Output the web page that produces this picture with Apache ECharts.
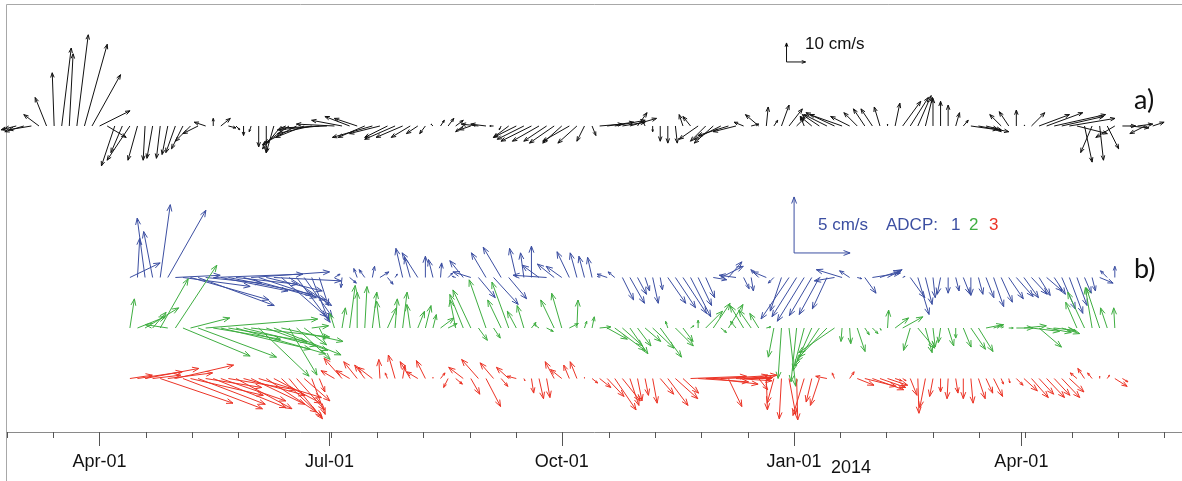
<!DOCTYPE html>
<html>
<head>
<meta charset="utf-8">
<script src="https://cdn.jsdelivr.net/npm/echarts@6/dist/echarts.min.js"></script>
<style>
  html, body { margin: 0; padding: 0; background: #fff; }
  #chart { width: 1182px; height: 481px; }
</style>
</head>
<body>
<div id="chart"></div>
<script>
// time in days since 2013-01-01, one stick every 3 days
var step = 3;
var dayA0 = 54;   // start of the upper record (a)
var dayB0 = 102;  // start of the ADCP records (b)

// a) velocity sticks, cm/s (east u, north v)
var uA = [-3,-8,-10,-12,-8,-6,-1,5,2,6,
  12,15,16,10,-7,-6,-12,-5,-1,-3,
  -2,-3,-5,-6,-8,-8,-6,0,5,4,
  2,0,-1,0,0,-4,-10,-14,-17,-15,
  -18,-22,-24,-20,-16,-13,-12,-14,-21,-16,
  -12,-16,-14,-10,-6,-3,-1,2,3,4,
  -4,-6,-9,-8,-2,-1,-8,-12,-14,-16,
  -14,-12,-13,-10,-14,-10,-4,2,12,14,
  16,12,14,5,-1,0,0,0,1,-2,
  -4,-10,-8,-10,-14,-16,-12,-5,4,-7,
  1,2,4,7,4,-2,-6,-9,-12,-15,
  -17,-10,-7,-6,-6,-3,0,2.5,9.5,9.5,
  7,3.7,0,0,0,2,2.6,14,16,8,
  4,-6,-5,0,0.5,7,16,19,27,22,
  24,16,4,-6,2,6,-10,7,10,8,
  -8,6];
var vA = [-2,-2,-3,-2,6,15,28,41,38,48,
  43,27,8,-6,-21,-14,-18,-18,-18,-17,
  -17,-15,-14,-12,-8,-4,2,4,4,-1,
  -2,-5,-3,-11,-14,-14,-12,-10,-9,-6,
  -4,-2,-1,1,3,5,4,-6,-6,-4,
  -6,-7,-6,-6,-4,-4,1,3,4,3,
  -3,-2,1,1,0,-2,-6,-6,-7,-8,
  -8,-8,-9,-9,-8,-9,-8,-5,1,2,
  3,2,4,7,2,-3,-8,-9,-9,6,
  5,-7,-8,-9,-7,-5,-3,2,1,6,
  10,3,11,9,4,5,5,6,6,7,
  6,5,7,9,9,10,1,12,13,15,
  16,15,14.5,13,11,7,3,-2,-3,-2,
  -3,6,7.5,8.4,0.5,7,6,7,6,5,
  4,-4,-19,-14,-18,-12,-6,0,-1,1,
  -4,2];

// b) ADCP 1
var uB1 = [2.7,0.2,-0.7,-0.8,0.9,3.4,4,6,7,6.8,
  5,8,6,7.5,5.5,6.5,7,6,5,6,
  4,3.8,3,2.5,1.5,0.8,null,0.5,-0.1,0.6,
  -0.3,-0.5,0.2,0.8,0.5,0.2,-0.6,-0.5,-1.4,0,
  -0.4,0.1,0.4,-0.3,-1.2,-1.6,1.5,-1.3,2.2,-1.6,
  1.6,-0.6,-0.3,0,-1.5,-3,-1.5,-1.4,-1.1,-0.6,
  -0.5,-0.4,-0.2,-0.9,-0.6,1,1.3,0.8,0.4,0.5,
  0.2,1.6,1.8,2.1,1.8,1.2,0.8,1.2,2,1.2,
  -1.5,0.5,0.2,-0.7,-1.2,-0.5,-1,-2.5,-2.2,-2.4,
  -2,-1.8,-1.3,-1.8,-2.3,-0.9,0.4,1,2.5,1.8,
  1.3,0,0.2,1.3,1,0.6,0.2,-0.3,0,0.3,
  0.6,0,0.4,0.7,0.9,1,1.3,1.5,1.3,1.4,
  1,1.4,1,1.2,1.2,0.9,0.6,0.3,1.2,-0.6,
  0,null,null];
var vB1 = [1.3,3.5,5.3,4.1,6.5,6,0.2,-0.8,-2,-2.5,
  -0.5,0.3,-1.2,-1.5,-0.6,-1.8,0.5,-2,-1.2,-0.3,
  -3.5,-2.5,-4,-3.5,-3.8,-2.5,null,0.3,-0.9,-0.5,
  0.8,0.7,1,0.5,-0.6,0.3,2.6,1.8,2.2,1.9,
  1.6,1.3,0.4,0.1,1.5,0.5,-1.8,2.2,-2.4,2.7,
  -1.9,2.6,2.2,2.8,1.1,0.2,1.2,1,2.3,2.2,
  1.9,1.8,0.1,0.3,0.5,-2,-2.3,-1.5,-1.2,-2.3,
  -1.1,-2.3,-2.7,-3.2,-3.5,-2.5,-1.8,-0.2,1,1.4,
  0.2,-1,-1.2,0.7,0.5,-0.5,-3,-3.7,-3.5,-3.9,
  -3.4,-3.3,-2.8,-0.3,0.7,0.6,-0.1,-1.4,0.4,0.6,
  0.7,0,0.1,-1.8,-3.3,-2.4,-1.8,-1.5,-1.4,-1.2,
  -1.5,-1.6,-1.5,-1.8,-2.6,-2.2,-1.9,-1.7,-1.8,-1.5,
  -1.6,-1.2,-1.5,-2.8,-3.2,-2.5,-1.4,-1.2,-0.5,0.6,
  1,null,null];

// b) ADCP 2
var uB2 = [0.4,2.5,3,1.2,2.5,-2,3.7,6,3.5,7,
  10,6,8,7,8,6.5,7,4.5,5.5,6,
  5.5,2.5,3,2,1.5,0.5,null,-0.4,0.3,0.5,
  0,0.2,0.4,-0.3,0.8,0.2,0.4,-0.3,0.6,0.5,
  0.3,1.2,0.8,-0.5,-1.2,-1.6,0.8,-1.5,0.6,-1.2,
  -1.5,-0.8,-0.6,0.4,-0.4,0.6,-1.2,-0.9,0.8,0.1,
  0.2,0.2,1,1.8,2.7,1.8,1.6,1.2,1.4,1.9,
  1.9,-0.2,1.6,0.9,0.3,0,1.5,1.5,0.5,1.3,
  -0.5,-1.2,-1.1,-0.8,0.4,-0.5,-0.3,0.6,-0.5,-1,
  -1.5,-2,-2.5,-3.2,-0.1,0.1,0.7,0.4,0.5,0.1,
  0.1,1.2,1.8,-0.6,1.5,0.6,0.2,-0.2,0.5,0,
  0.7,1.3,1.3,1.5,0.9,0.2,0.4,1.5,2,2.5,
  2,2.2,1.8,1.6,0.6,-1,-1.5,-0.6,-1.2,-0.6,
  -0.1,null,null];
var vB2 = [2.6,1,1.8,1.4,4.4,0.3,5.6,-2.5,0.9,-2.6,
  0.8,-1,-1.9,-1.2,-2.3,-1.6,-0.8,-4.3,-2,-2.4,
  -1.2,-4.2,-2.8,-1.5,0.2,-1,null,1.3,1.8,3.8,
  3.2,3.7,3.2,2.4,1.8,2.6,3.2,2.1,1.5,2,
  1.2,0.9,0.4,2.5,3,3.4,-1.1,4.3,-0.9,2.5,
  4.1,1.5,2,0.5,0.3,-0.3,2.5,3.1,0.4,2.5,
  0.6,1,0.1,-1,-2,-1.6,-2.3,-1.6,-1.2,-1.8,
  -2.6,0.6,-1.6,-1.2,0.2,0.7,1.5,2.2,-0.4,2.1,
  0.6,2,1.6,1.3,0.1,-2.6,-4.5,-5.2,-4.8,-3.8,
  -3.4,-3,-2.6,-2.2,-1.2,-1.4,-2.1,-0.6,-0.5,-0.2,
  1.6,0.9,1,-2,-1.8,-2.2,-1.7,-1.3,-1.6,-0.9,
  -1.7,-1.9,-2.1,0.3,0.3,0.1,0,0,0.2,-0.3,
  -1.7,-0.4,-0.2,-0.5,-0.3,2.3,3.2,3.6,3.6,1.8,
  1.8,null,null];

// b) ADCP 3
var uB3 = [2,4,4.8,2.5,6.5,4,5.2,7.1,6.5,6,
  5,6.5,5.8,6,5,5.5,4.8,5.6,4.5,4.2,
  3.6,3,2.5,2.3,1.2,0.5,null,-1.2,-1.6,-1.2,
  -1.2,-0.9,-1.3,-0.1,-0.2,-0.6,0.2,-0.9,-1,-0.8,
  0,0.4,-0.4,0.6,-1.3,0.8,-1.5,1.3,-1.2,0.6,
  -1.1,-0.8,0.1,0.2,0.4,0.3,-0.8,-1,-0.5,-0.6,
  0,0.5,1,1.5,1.9,1.6,0.8,0.4,0.3,0.4,
  1.2,1.8,2,1.4,5,4.5,6,4,5,1.2,
  3.2,2.5,1.5,0.8,0.1,-0.6,-0.2,0.6,0.1,-1,
  -0.5,-0.8,-1,-0.2,0,0.4,1.5,2.8,2.8,2.3,
  1.8,0.6,0.3,0.6,0.1,-0.5,-0.3,0,-0.1,0.2,
  0,0.2,0.6,0.6,0.8,0.2,0.1,0.6,1.2,1.5,
  1.3,1.6,1.4,1.6,1.3,-0.6,-0.6,-0.4,0,0.2,
  1.1,0.5,null];
var vB3 = [0.3,0.6,0.9,0.3,-2.2,0.5,1.2,-2.7,-1.5,-2.3,
  -0.8,-2.6,-2,-1,-2.7,-1.5,-2.3,-1.7,-3,-2.2,
  -3.4,-3.6,-2.8,-2,-3.2,-1.2,null,0.7,1.8,0.7,
  1.5,1.2,1,1.7,0.5,2.1,1.2,1.5,0.6,1.6,
  0.1,0.5,-0.8,-0.5,1,-1.4,1.7,-2.5,1.4,-0.7,
  1,0.2,-0.2,-1.3,-1.8,-1.7,1.5,0.8,1.2,1.5,
  0.1,-0.4,-0.8,-1.6,-2.8,-2,-2.4,-2,-1.5,-2.2,
  -1.4,-2.4,-1.8,-1.3,0.2,-0.3,0.1,-0.5,0.3,-2.5,
  -0.2,0,0.3,-1,-2.8,-2.2,-3.6,-3.2,-3.7,-3.3,
  -2.1,-2.4,0.2,0.5,0,0.6,-0.6,-0.7,-1,-0.8,
  -0.6,-0.2,-0.2,-1.5,-3.1,-2.6,-1.6,-1.2,-1.8,-1.3,
  -1.8,-2.2,-1.8,-1.3,-1.6,-0.5,-0.4,-0.6,-1.1,-1.7,
  -1.4,-1.7,-1.5,-1.7,-1.2,0.5,0.9,0.5,0.2,0.3,
  -0.7,-0.3,null];

// scale keys: [day, u, v]
var keyA = [[362, 10, 0], [362, 0, 10]];
var keyB = [[365, 5, 0], [365, 0, 5]];

// axis ticks
var majorTicks = [90, 181, 273, 365, 455];
var majorLabels = ['Apr-01', 'Jul-01', 'Oct-01', 'Jan-01', 'Apr-01'];
var minorStep = 55 / 3, minorFirst = 90 - 2 * 55 / 3, minorCount = 26;

var BLUE = '#3c4fa2', GREEN = '#3fae41', RED = '#ec3426';

function build(day0, us, vs) {
    var out = [];
    for (var k = 0; k < us.length; k++) {
        if (us[k] == null) continue;
        out.push([day0 + step * k, us[k], vs[k]]);
    }
    return out;
}

var minorTicks = [];
for (var m = 0; m < minorCount; m++) minorTicks.push(minorFirst + m * minorStep);

// one stick = shaft + open head, drawn from the baseline "base" of its own y axis
function stick(base, color, head) {
    return function (params, api) {
        var p0 = api.coord([api.value(0), base]);
        var k = api.size([0, 1])[1];
        var x1 = p0[0] + api.value(1) * k, y1 = p0[1] - api.value(2) * k;
        var dx = x1 - p0[0], dy = y1 - p0[1];
        var len = Math.sqrt(dx * dx + dy * dy);
        if (len < 0.5) return;
        var h = Math.min(head, len * 0.4), a = Math.atan2(dy, dx), w = 0.36;
        var st = {stroke: color, lineWidth: 1, fill: null};
        return {
            type: 'group',
            children: [
                {type: 'line', shape: {x1: p0[0], y1: p0[1], x2: x1, y2: y1}, style: st},
                {type: 'polyline', shape: {points: [
                    [x1 - h * Math.cos(a - w), y1 - h * Math.sin(a - w)],
                    [x1, y1],
                    [x1 - h * Math.cos(a + w), y1 - h * Math.sin(a + w)]
                ]}, style: st}
            ]
        };
    };
}

function stickSeries(name, data, yIdx, base, color, head) {
    return {
        name: name,
        type: 'custom',
        xAxisIndex: 0,
        yAxisIndex: yIdx,
        clip: false,
        silent: true,
        renderItem: stick(base, color, head),
        encode: {x: 0, y: 0},
        data: data
    };
}

var TXT = '"Liberation Sans", Arial, sans-serif';
var labelFont = 'Lato, "Open Sans", sans-serif';

var option = {
    animation: false,
    backgroundColor: '#fff',
    grid: {left: 7, right: 0, top: 5, bottom: 49},
    xAxis: [
        {
            type: 'value', min: 53.333, max: 518.6, position: 'bottom',
            axisLine: {show: true, onZero: false, lineStyle: {color: '#8a8a8a', width: 1}},
            axisTick: {show: true, customValues: minorTicks, length: 6, lineStyle: {color: '#555'}},
            axisLabel: {show: false},
            splitLine: {show: false}
        },
        {
            type: 'value', min: 53.333, max: 518.6, position: 'bottom',
            axisLine: {show: false, onZero: false},
            axisTick: {show: true, customValues: majorTicks, length: 14, lineStyle: {color: '#555'}},
            axisLabel: {
                show: true, customValues: majorTicks, margin: 21,
                fontSize: 18, fontFamily: TXT, color: '#111',
                formatter: function (v) {
                    var i = majorTicks.indexOf(Math.round(v));
                    return i >= 0 ? majorLabels[i] : '';
                }
            },
            splitLine: {show: false}
        }
    ],
    yAxis: [
        {type: 'value', show: false, min: -161.05, max: 63.68},
        {type: 'value', show: false, min: -13.795, max: 24.33}
    ],
    graphic: [
        {type: 'rect', shape: {x: 6.5, y: 4.5, width: 1300, height: 600}, style: {fill: null, stroke: '#a8a8a8', lineWidth: 1}, silent: true, z: -1},
        {type: 'text', left: 805, top: 36, style: {text: '10 cm/s', fontSize: 17, fontFamily: TXT, fill: '#111'}},
        {type: 'text', left: 818, top: 217, style: {text: '5 cm/s', fontSize: 17, fontFamily: TXT, fill: BLUE}},
        {type: 'text', left: 886, top: 217, style: {text: 'ADCP:', fontSize: 17, fontFamily: TXT, fill: BLUE}},
        {type: 'text', left: 951, top: 217, style: {text: '1', fontSize: 17, fontFamily: TXT, fill: BLUE}},
        {type: 'text', left: 969, top: 217, style: {text: '2', fontSize: 17, fontFamily: TXT, fill: GREEN}},
        {type: 'text', left: 989, top: 217, style: {text: '3', fontSize: 17, fontFamily: TXT, fill: RED}},
        {type: 'text', left: 1134, top: 87, style: {text: 'a)', fontSize: 27, fontFamily: labelFont, fill: '#111'}},
        {type: 'text', left: 1134, top: 256, style: {text: 'b)', fontSize: 27, fontFamily: labelFont, fill: '#111'}},
        {type: 'text', left: 831, top: 459, style: {text: '2014', fontSize: 18, fontFamily: TXT, fill: '#111'}}
    ],
    series: [
        stickSeries('a', build(dayA0, uA, vA), 0, 0, '#111', 5),
        stickSeries('ADCP 1', build(dayB0, uB1, vB1), 1, 0, BLUE, 7),
        stickSeries('ADCP 2', build(dayB0, uB2, vB2), 1, -4.51, GREEN, 7),
        stickSeries('ADCP 3', build(dayB0, uB3, vB3), 1, -9.02, RED, 7),
        stickSeries('key a', keyA, 0, 33.7, '#111', 4),
        stickSeries('key b', keyB, 1, 2.19, BLUE, 7)
    ]
};

var myChart = echarts.init(document.getElementById('chart'));
myChart.setOption(option);
</script>
</body>
</html>
